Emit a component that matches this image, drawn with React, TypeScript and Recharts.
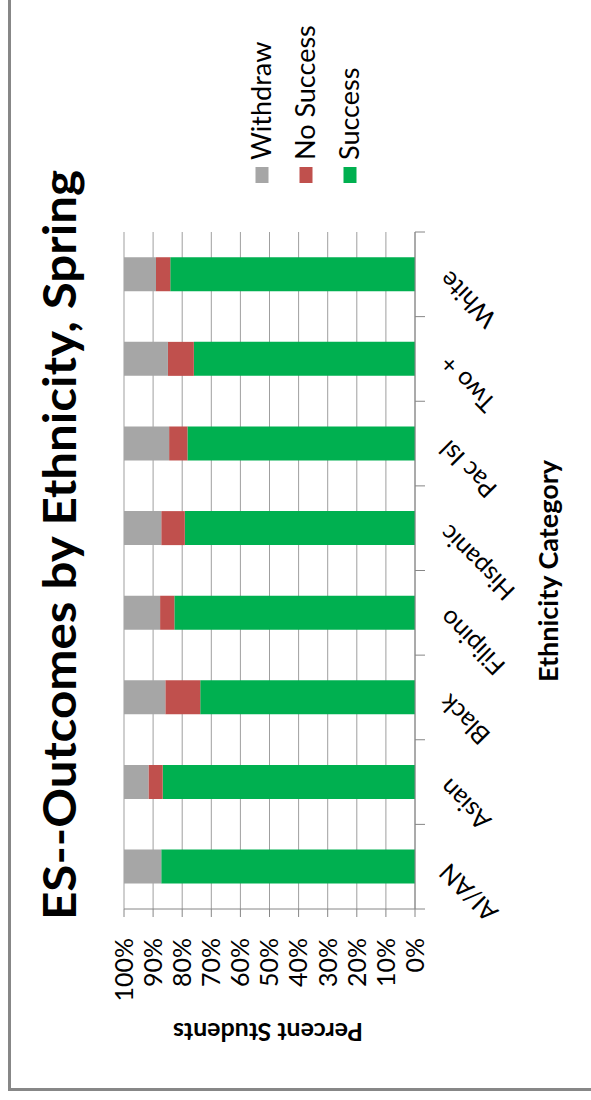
import React from 'react';
import { BarChart, Bar, XAxis, YAxis, CartesianGrid } from 'recharts';

// Ethnicity categories (left to right on the category axis)
const categories = ['AI/AN', 'Asian', 'Black', 'Filipino', 'Hispanic', 'Pac Isl', 'Two +', 'White'];
// Outcome shares, percent of students
const successPct = [87.2, 86.7, 73.8, 82.7, 79.1, 78.2, 76.0, 84.1];
const noSuccessPct = [0, 4.9, 12.0, 4.9, 8.1, 6.3, 8.9, 4.9];
const withdrawPct = [12.8, 8.4, 14.2, 12.4, 12.8, 15.5, 15.1, 11.0];
const percentTicks = [0, 10, 20, 30, 40, 50, 60, 70, 80, 90, 100];

const legendItems = [
  { name: 'Withdraw', color: '#A6A6A6' },
  { name: 'No Success', color: '#C0504D' },
  { name: 'Success', color: '#00B050' },
];

const data = categories.map((category, i) => ({
  category,
  success: successPct[i],
  noSuccess: noSuccessPct[i],
  withdraw: withdrawPct[i],
}));

// Chart drawn in landscape, then turned a quarter turn counter-clockwise
const CHART_W = 1100;
const CHART_H = 591;
const PLOT_LEFT = 191;
const PLOT_RIGHT = 868;
const PLOT_TOP = 124;
const PLOT_BOTTOM = 415;
const Y_AXIS_W = 100;
const X_AXIS_H = 100;
const X_TICK = 10;

const FONT = 'Lato, "Open Sans", sans-serif';
const AXIS_GRAY = '#868686';
const GRID_GRAY = '#9f9f9f';

const halfBand = (PLOT_RIGHT - PLOT_LEFT) / categories.length / 2;

function CategoryTick(props: any) {
  const { x, y, payload, index } = props;
  const half = payload && typeof payload.offset === 'number' && payload.offset > 0 ? payload.offset : halfBand;
  const axisY = y - X_TICK;
  const ax = x + 5;
  const ay = axisY + 35;
  return (
    <g>
      <line x1={x - half} y1={axisY} x2={x - half} y2={axisY + X_TICK} stroke={AXIS_GRAY} strokeWidth={1} />
      {index === categories.length - 1 && (
        <line x1={x + half} y1={axisY} x2={x + half} y2={axisY + X_TICK} stroke={AXIS_GRAY} strokeWidth={1} />
      )}
      <text
        x={ax}
        y={ay}
        textAnchor="end"
        transform={`rotate(-45, ${ax}, ${ay})`}
        fontSize={25}
        fontFamily={FONT}
        fill="#000"
      >
        {payload.value}
      </text>
    </g>
  );
}

export default function App() {
  return (
    <div
      style={{
        position: 'absolute',
        left: 0,
        top: 0,
        width: 591,
        height: 1100,
        overflow: 'hidden',
        background: '#fff',
      }}
    >
      <div
        style={{
          position: 'absolute',
          left: 0,
          top: 0,
          width: CHART_W,
          height: CHART_H,
          transformOrigin: '0 0',
          transform: `translateY(${CHART_W}px) rotate(-90deg)`,
        }}
      >
        <BarChart
          width={CHART_W}
          height={CHART_H}
          data={data}
          barCategoryGap="30%"
          margin={{
            top: PLOT_TOP,
            left: PLOT_LEFT - Y_AXIS_W,
            right: CHART_W - PLOT_RIGHT,
            bottom: CHART_H - PLOT_BOTTOM - X_AXIS_H,
          }}
        >
          <CartesianGrid vertical={false} stroke={GRID_GRAY} strokeWidth={1} />
          <XAxis
            dataKey="category"
            height={X_AXIS_H}
            interval={0}
            tickSize={X_TICK}
            tickMargin={0}
            tickLine={false}
            axisLine={{ stroke: AXIS_GRAY, strokeWidth: 1 }}
            tick={<CategoryTick />}
          />
          <YAxis
            width={Y_AXIS_W}
            domain={[0, 100]}
            ticks={percentTicks}
            interval={0}
            allowDataOverflow
            tickFormatter={(v: number) => `${v}%`}
            tickSize={8}
            tickMargin={21}
            axisLine={{ stroke: AXIS_GRAY, strokeWidth: 1 }}
            tickLine={{ stroke: AXIS_GRAY, strokeWidth: 1 }}
            tick={{ fontSize: 25, fill: '#000', fontFamily: FONT }}
          />
          <Bar dataKey="success" name="Success" stackId="outcome" fill="#00B050" isAnimationActive={false} />
          <Bar dataKey="noSuccess" name="No Success" stackId="outcome" fill="#C0504D" isAnimationActive={false} />
          <Bar dataKey="withdraw" name="Withdraw" stackId="outcome" fill="#A6A6A6" isAnimationActive={false} />
        </BarChart>

        <svg
          width={CHART_W}
          height={CHART_H}
          style={{ position: 'absolute', left: 0, top: 0, pointerEvents: 'none' }}
        >
          <text
            x={555}
            y={76}
            textAnchor="middle"
            textLength={750}
            lengthAdjust="spacingAndGlyphs"
            fontFamily={FONT}
            fontWeight={700}
            fontSize={46}
            fill="#000"
          >
            ES--Outcomes by Ethnicity, Spring
          </text>
          <text
            x={77}
            y={268}
            textAnchor="middle"
            transform="rotate(-90, 77, 268)"
            fontFamily={FONT}
            fontWeight={700}
            fontSize={25}
            fill="#000"
          >
            Percent Students
          </text>
          <text x={529} y={558} textAnchor="middle" fontFamily={FONT} fontWeight={700} fontSize={27} fill="#000">
            Ethnicity Category
          </text>
          {legendItems.map((item, i) => {
            const cy = 262 + i * 44;
            return (
              <g key={item.name}>
                <rect x={917} y={cy - 6.5} width={16} height={13} fill={item.color} />
                <text x={940} y={cy + 9} fontFamily={FONT} fontSize={27} fill="#000">
                  {item.name}
                </text>
              </g>
            );
          })}
        </svg>
      </div>
      <div
        style={{
          position: 'absolute',
          left: 8,
          top: -10,
          width: 600,
          height: 1101,
          boxSizing: 'border-box',
          borderLeft: '3px solid #878787',
          borderBottom: '3px solid #878787',
          pointerEvents: 'none',
        }}
      />
    </div>
  );
}
